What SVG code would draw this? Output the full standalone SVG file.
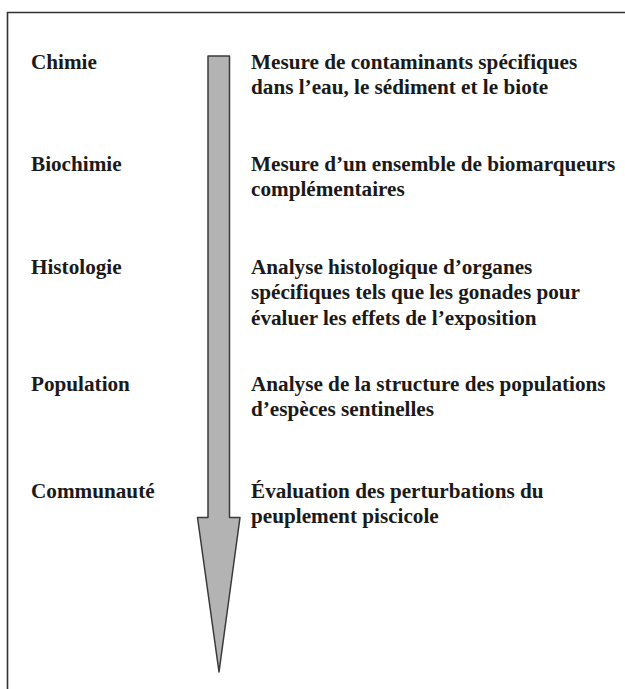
<svg xmlns="http://www.w3.org/2000/svg" width="625" height="689" viewBox="0 0 625 689">
<style>
.t{font-family:"Liberation Serif","Times New Roman",serif;font-weight:bold;font-size:21.2px;fill:#1a1a1a}
</style>
<rect x="0" y="0" width="625" height="689" fill="#fff"/>
<g id="frame"><path d="M7.5,689 V12.5 H625" fill="none" stroke="#333" stroke-width="1.6"/></g>
<g id="connectors">
<path id="arrow" d="M208,56 H229.5 V517.5 H240 L219,672 L197.5,517.5 H208 Z" fill="#b3b3b3" stroke="#3a3a3a" stroke-width="1.5" stroke-linejoin="round"/>
</g>
<g id="chimie"><text class="t" x="31" y="69">Chimie</text>
<text class="t" x="251" y="69">Mesure de contaminants spécifiques</text>
<text class="t" x="251" y="94">dans l’eau, le sédiment et le biote</text></g>
<g id="biochimie"><text class="t" x="31" y="171">Biochimie</text>
<text class="t" x="251" y="171">Mesure d’un ensemble de biomarqueurs</text>
<text class="t" x="251" y="196">complémentaires</text></g>
<g id="histologie"><text class="t" x="31" y="274">Histologie</text>
<text class="t" x="251" y="274">Analyse histologique d’organes</text>
<text class="t" x="251" y="299">spécifiques tels que les gonades pour</text>
<text class="t" x="251" y="325">évaluer les effets de l’exposition</text></g>
<g id="population"><text class="t" x="31" y="391">Population</text>
<text class="t" x="251" y="391">Analyse de la structure des populations</text>
<text class="t" x="251" y="416">d’espèces sentinelles</text></g>
<g id="communaute"><text class="t" x="31" y="498">Communauté</text>
<text class="t" x="251" y="498">Évaluation des perturbations du</text>
<text class="t" x="251" y="523">peuplement piscicole</text></g>
</svg>
